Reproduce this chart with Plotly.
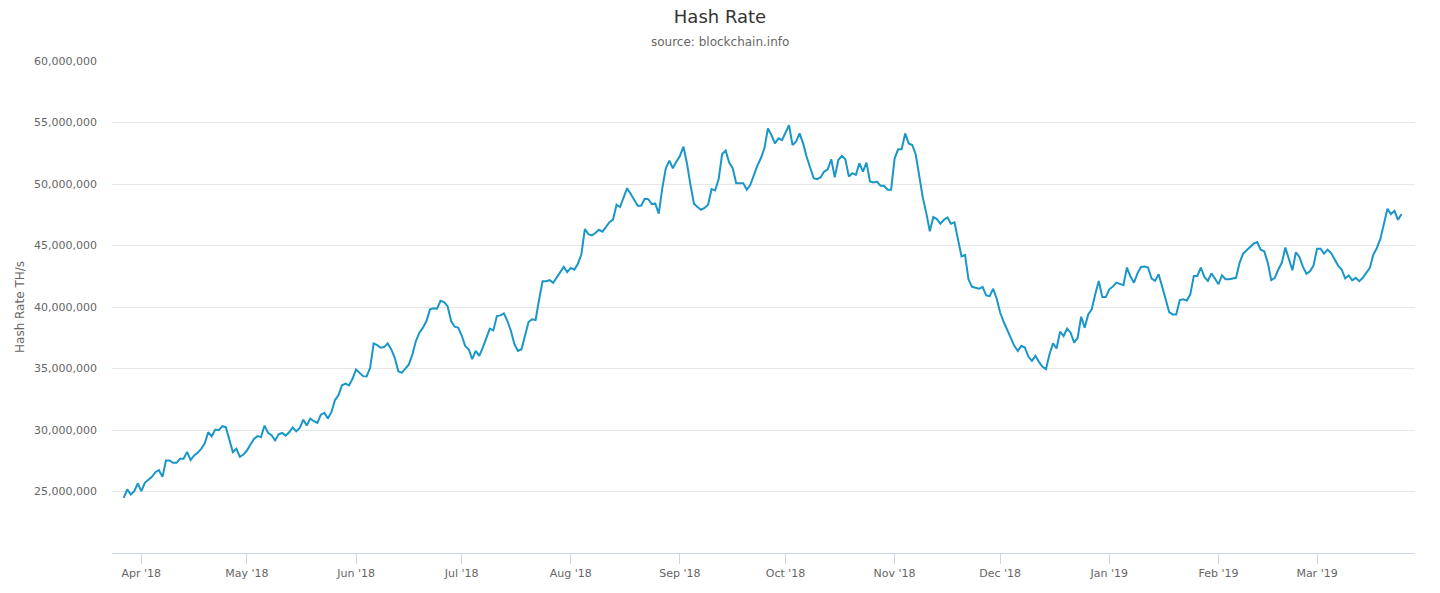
import pandas as pd
import plotly.graph_objects as go

# Daily hash rate, millions of TH/s, starting 2018-03-27
start_date = "2018-03-27"
hash_rate_m = [
    24.49, 25.17, 24.76, 25.03, 25.65, 25.03, 25.71, 25.92, 26.19, 26.57,
    26.74, 26.19, 27.52, 27.52, 27.33, 27.33, 27.66, 27.66, 28.22, 27.55,
    27.93, 28.14, 28.47, 28.90, 29.82, 29.50, 30.04, 29.98, 30.31, 30.23,
    29.09, 28.20, 28.47, 27.82, 28.01, 28.33, 28.82, 29.28, 29.50, 29.42,
    30.36, 29.77, 29.58, 29.15, 29.65, 29.76, 29.54, 29.81, 30.22, 29.89,
    30.16, 30.84, 30.36, 30.93, 30.71, 30.57, 31.25, 31.39, 30.93, 31.47,
    32.42, 32.83, 33.64, 33.78, 33.62, 34.16, 34.92, 34.65, 34.38, 34.35,
    35.06, 37.04, 36.90, 36.69, 36.74, 37.04, 36.55, 35.87, 34.78, 34.65,
    35.00, 35.33, 36.14, 37.23, 37.91, 38.32, 38.86, 39.81, 39.89, 39.86,
    40.51, 40.40, 40.07, 38.86, 38.40, 38.32, 37.70, 36.84, 36.57, 35.76,
    36.43, 36.03, 36.70, 37.51, 38.24, 38.10, 39.26, 39.32, 39.48, 38.86,
    38.05, 36.97, 36.43, 36.57, 37.78, 38.78, 39.00, 38.94, 40.61, 42.10,
    42.10, 42.18, 41.96, 42.37, 42.77, 43.26, 42.83, 43.18, 43.04, 43.50,
    44.26, 46.34, 45.93, 45.82, 46.01, 46.28, 46.13, 46.56, 46.89, 47.10,
    48.32, 48.13, 48.86, 49.66, 49.21, 48.77, 48.24, 48.24, 48.80, 48.77,
    48.37, 48.40, 47.59, 49.66, 51.28, 51.90, 51.28, 51.82, 52.28, 53.03,
    51.69, 49.93, 48.40, 48.13, 47.91, 48.05, 48.32, 49.58, 49.47, 50.39,
    52.44, 52.71, 51.74, 51.28, 50.07, 50.07, 50.07, 49.53, 49.93, 50.70,
    51.50, 52.09, 52.90, 54.51, 53.98, 53.30, 53.71, 53.57, 54.25, 54.78,
    53.17, 53.44, 54.11, 53.30, 52.22, 51.28, 50.47, 50.39, 50.55, 51.01,
    51.20, 52.01, 50.55, 51.95, 52.28, 52.01, 50.61, 50.88, 50.74, 51.69,
    51.01, 51.74, 50.20, 50.12, 50.20, 49.85, 49.85, 49.53, 49.53, 52.09,
    52.82, 52.82, 54.11, 53.30, 53.17, 52.40, 50.50, 48.90, 47.63, 46.15,
    47.31, 47.15, 46.77, 47.09, 47.28, 46.77, 46.88, 45.47, 44.12, 44.23,
    42.23, 41.64, 41.56, 41.48, 41.64, 40.94, 40.88, 41.48, 40.67, 39.53,
    38.78, 38.10, 37.43, 36.84, 36.43, 36.84, 36.70, 35.97, 35.62, 36.03,
    35.54, 35.14, 34.95, 36.16, 37.05, 36.62, 37.99, 37.64, 38.24, 37.91,
    37.11, 37.50, 39.21, 38.32, 39.40, 39.81, 41.03, 42.12, 40.82, 40.82,
    41.44, 41.66, 41.98, 41.85, 41.77, 43.21, 42.47, 41.98, 42.74, 43.26,
    43.29, 43.21, 42.31, 42.12, 42.66, 41.66, 40.63, 39.59, 39.40, 39.40,
    40.57, 40.63, 40.52, 41.03, 42.53, 42.53, 43.21, 42.45, 42.12, 42.74,
    42.31, 41.85, 42.58, 42.26, 42.26, 42.31, 42.37, 43.59, 44.34, 44.61,
    44.85, 45.15, 45.28, 44.66, 44.53, 43.59, 42.18, 42.37, 43.05, 43.59,
    44.83, 43.86, 42.99, 44.45, 44.07, 43.26, 42.70, 42.91, 43.37, 44.74,
    44.74, 44.34, 44.66, 44.39, 43.91, 43.37, 43.05, 42.32, 42.56, 42.16,
    42.37, 42.10, 42.37, 42.83, 43.18, 44.26, 44.80, 45.53, 46.69, 47.98,
    47.55, 47.82, 47.09, 47.55,
]
dates = pd.date_range(start_date, periods=len(hash_rate_m), freq="D")
hash_rate = [v * 1e6 for v in hash_rate_m]

y_ticks = [25e6, 30e6, 35e6, 40e6, 45e6, 50e6, 55e6, 60e6]

FONT = "DejaVu Sans"

fig = go.Figure()
fig.add_trace(go.Scatter(
    x=dates, y=hash_rate, mode="lines",
    line=dict(color="#1b96c8", width=2),
    name="Hash Rate", showlegend=False,
))

fig.update_layout(
    width=1440, height=593,
    margin=dict(l=112, r=25, t=61, b=40),
    paper_bgcolor="white", plot_bgcolor="white",
    font=dict(family=FONT, color="#666666", size=11),
    title=dict(text="Hash Rate", x=0.5, xanchor="center",
               y=1 - 17 / 593, yanchor="middle", yref="container",
               font=dict(family=FONT, size=18, color="#333333")),
    annotations=[
        dict(text="source: blockchain.info", xref="paper", yref="paper",
             x=(720 - 112) / 1303, y=(553 - 42) / 492,
             xanchor="center", yanchor="middle",
             showarrow=False, font=dict(family=FONT, size=12, color="#666666")),
        dict(text="Hash Rate TH/s", xref="paper", yref="paper",
             x=(20 - 112) / 1303, y=0.5, xanchor="center", yanchor="middle",
             textangle=-90, showarrow=False,
             font=dict(family=FONT, size=12, color="#666666")),
    ],
)

fig.update_xaxes(
    type="date",
    range=["2018-03-23 16:00", "2019-03-28 20:00"],
    tick0="2018-04-01", dtick="M1", tickformat="%b '%y",
    ticks="outside", ticklen=10, tickcolor="#ccd6eb", tickwidth=1,
    showline=True, linecolor="#ccd6eb", linewidth=1,
    showgrid=False, zeroline=False,
    tickfont=dict(family=FONT, size=11, color="#666666"),
)
fig.update_yaxes(
    range=[20e6, 60e6],
    tickvals=y_ticks, tickformat=",d",
    showgrid=True, gridcolor="#e6e6e6", gridwidth=1,
    zeroline=False, showline=False, ticks="",
    ticklabelstandoff=14,
    tickfont=dict(family=FONT, size=11, color="#666666"),
)

fig.write_html("out.html")
